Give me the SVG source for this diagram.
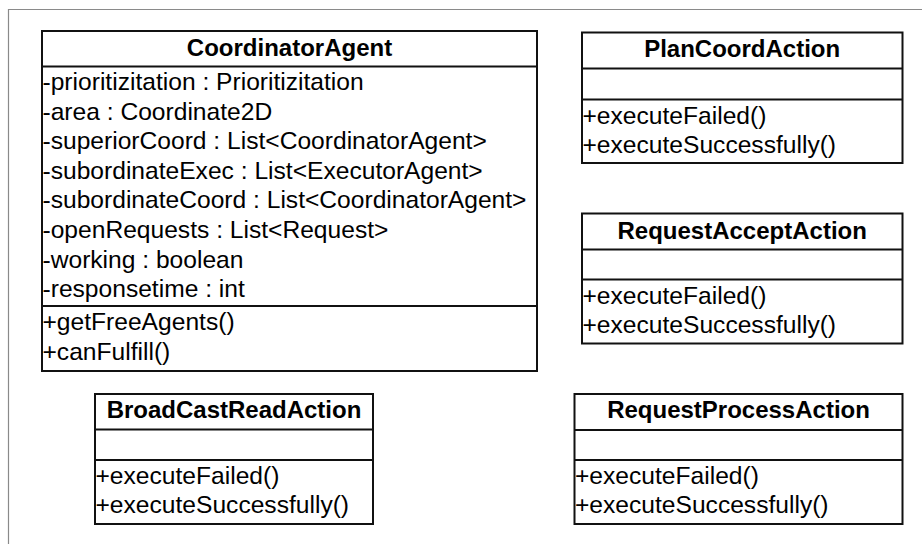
<svg xmlns="http://www.w3.org/2000/svg" width="922" height="544" viewBox="0 0 922 544">
  <style>
    .box { fill: #ffffff; stroke: #111111; stroke-width: 2; }
    .div { stroke: #111111; stroke-width: 2; fill: none; }
    .frame { stroke: #8a8a8a; stroke-width: 1.2; fill: none; }
    .title { font-family: "Liberation Sans", Arial, sans-serif; font-size: 24px; font-weight: bold; fill: #000; text-anchor: middle; }
    .member { font-family: "Liberation Sans", Arial, sans-serif; font-size: 24.6px; fill: #000; }
  </style>
  <rect width="922" height="544" fill="#ffffff"/>
  <!-- outer diagram frame -->
  <path class="frame" d="M8.5,544 V9.5 H922"/>

  <g id="CoordinatorAgent">
    <rect class="box" x="42" y="31" width="495" height="340"/>
    <line class="div" x1="42" y1="66.5" x2="537" y2="66.5"/>
    <line class="div" x1="42" y1="306" x2="537" y2="306"/>
    <text class="title" x="289.5" y="56">CoordinatorAgent</text>
    <text class="member" x="42.5" y="90">-prioritizitation : Prioritizitation</text>
    <text class="member" x="42.5" y="119.6">-area : Coordinate2D</text>
    <text class="member" x="42.5" y="149.2">-superiorCoord : List&lt;CoordinatorAgent&gt;</text>
    <text class="member" x="42.5" y="178.8">-subordinateExec : List&lt;ExecutorAgent&gt;</text>
    <text class="member" x="42.5" y="208.4">-subordinateCoord : List&lt;CoordinatorAgent&gt;</text>
    <text class="member" x="42.5" y="238">-openRequests : List&lt;Request&gt;</text>
    <text class="member" x="42.5" y="267.6">-working : boolean</text>
    <text class="member" x="42.5" y="297.2">-responsetime : int</text>
    <text class="member" x="42.5" y="330">+getFreeAgents()</text>
    <text class="member" x="42.5" y="359.5">+canFulfill()</text>
  </g>

  <g id="PlanCoordAction">
    <rect class="box" x="582" y="32.5" width="320.5" height="130.5"/>
    <line class="div" x1="582" y1="68.5" x2="902.5" y2="68.5"/>
    <line class="div" x1="582" y1="99.5" x2="902.5" y2="99.5"/>
    <text class="title" x="742.2" y="57.3">PlanCoordAction</text>
    <text class="member" x="582.5" y="123.5">+executeFailed()</text>
    <text class="member" x="582.5" y="153.3">+executeSuccessfully()</text>
  </g>

  <g id="RequestAcceptAction">
    <rect class="box" x="582" y="213.5" width="320.5" height="130"/>
    <line class="div" x1="582" y1="249.5" x2="902.5" y2="249.5"/>
    <line class="div" x1="582" y1="279.5" x2="902.5" y2="279.5"/>
    <text class="title" x="742.2" y="238.7">RequestAcceptAction</text>
    <text class="member" x="582.5" y="303.5">+executeFailed()</text>
    <text class="member" x="582.5" y="333.3">+executeSuccessfully()</text>
  </g>

  <g id="BroadCastReadAction">
    <rect class="box" x="95" y="394" width="278" height="130"/>
    <line class="div" x1="95" y1="429.5" x2="373" y2="429.5"/>
    <line class="div" x1="95" y1="460" x2="373" y2="460"/>
    <text class="title" x="234" y="417.8">BroadCastReadAction</text>
    <text class="member" x="95.5" y="483.5">+executeFailed()</text>
    <text class="member" x="95.5" y="513.3">+executeSuccessfully()</text>
  </g>

  <g id="RequestProcessAction">
    <rect class="box" x="574.5" y="394" width="328" height="130"/>
    <line class="div" x1="574.5" y1="430" x2="902.5" y2="430"/>
    <line class="div" x1="574.5" y1="460" x2="902.5" y2="460"/>
    <text class="title" x="738.5" y="418.3">RequestProcessAction</text>
    <text class="member" x="575" y="483.5">+executeFailed()</text>
    <text class="member" x="575" y="513.3">+executeSuccessfully()</text>
  </g>

  <!-- connectors: none drawn in this class listing -->
  <g id="connectors"/>
</svg>
